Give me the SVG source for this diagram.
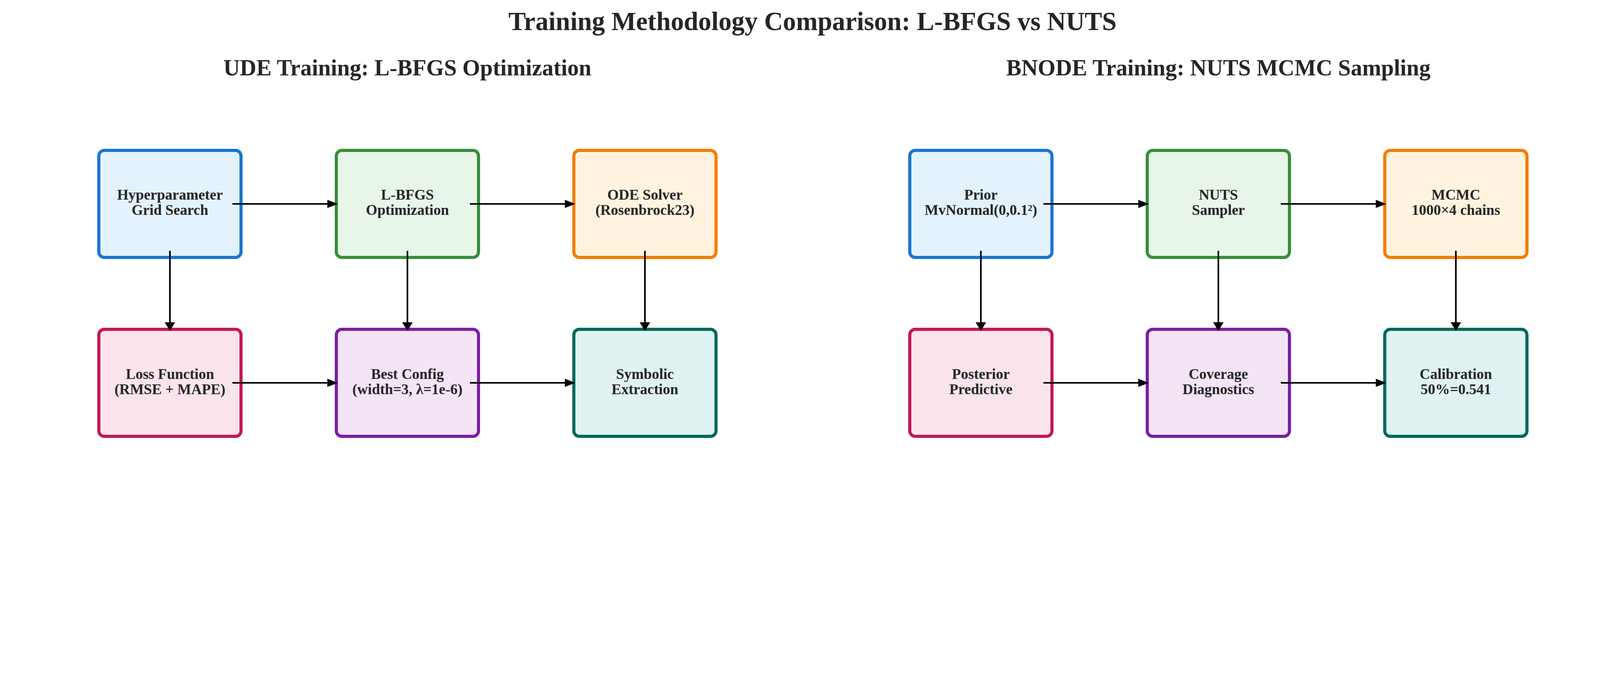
<svg xmlns="http://www.w3.org/2000/svg" width="4160" height="1774" viewBox="0 0 4160 1774">
<style>
  text { font-family: "Liberation Serif", "Times New Roman", serif; font-weight: bold; fill: #262626; text-anchor: middle; }
  .title { font-size: 66.7px; }
  .sub { font-size: 58.3px; }
  .lbl { font-size: 37.5px; }
  .box { stroke-width: 8; }
  .b1 { fill: #E3F2FD; stroke: #1976D2; }
  .b2 { fill: #E8F5E9; stroke: #388E3C; }
  .b3 { fill: #FFF3E0; stroke: #F57C00; }
  .b4 { fill: #FCE4EC; stroke: #C2185B; }
  .b5 { fill: #F3E5F5; stroke: #7B1FA2; }
  .b6 { fill: #E0F2F1; stroke: #00695C; }
  .conn line { stroke: #000000; stroke-width: 4.2; }
  .conn polygon { fill: #000000; }
</style>
<rect x="0" y="0" width="4160" height="1774" fill="#ffffff"/>
<text class="title" x="2080" y="77">Training Methodology Comparison: L-BFGS vs NUTS</text>
<text class="sub" x="1043" y="193">UDE Training: L-BFGS Optimization</text>
<text class="sub" x="3119" y="193">BNODE Training: NUTS MCMC Sampling</text>

<g id="ude-hyper"><rect class="box b1" x="253" y="385" width="364" height="274" rx="14"/><text class="lbl" x="435"><tspan x="435" y="511">Hyperparameter</tspan><tspan x="435" y="550">Grid Search</tspan></text></g>
<g id="ude-lbfgs"><rect class="box b2" x="861" y="385" width="364" height="274" rx="14"/><text class="lbl" x="1043"><tspan x="1043" y="511">L-BFGS</tspan><tspan x="1043" y="550">Optimization</tspan></text></g>
<g id="ude-ode"><rect class="box b3" x="1469" y="385" width="364" height="274" rx="14"/><text class="lbl" x="1651"><tspan x="1651" y="511">ODE Solver</tspan><tspan x="1651" y="550">(Rosenbrock23)</tspan></text></g>
<g id="ude-loss"><rect class="box b4" x="253" y="843" width="364" height="274" rx="14"/><text class="lbl" x="435"><tspan x="435" y="970">Loss Function</tspan><tspan x="435" y="1009">(RMSE + MAPE)</tspan></text></g>
<g id="ude-best"><rect class="box b5" x="861" y="843" width="364" height="274" rx="14"/><text class="lbl" x="1043"><tspan x="1043" y="970">Best Config</tspan><tspan x="1043" y="1009">(width=3, λ=1e-6)</tspan></text></g>
<g id="ude-symbolic"><rect class="box b6" x="1469" y="843" width="364" height="274" rx="14"/><text class="lbl" x="1651"><tspan x="1651" y="970">Symbolic</tspan><tspan x="1651" y="1009">Extraction</tspan></text></g>

<g id="bnode-prior"><rect class="box b1" x="2329" y="385" width="364" height="274" rx="14"/><text class="lbl" x="2511"><tspan x="2511" y="511">Prior</tspan><tspan x="2511" y="550">MvNormal(0,0.1²)</tspan></text></g>
<g id="bnode-nuts"><rect class="box b2" x="2937" y="385" width="364" height="274" rx="14"/><text class="lbl" x="3119"><tspan x="3119" y="511">NUTS</tspan><tspan x="3119" y="550">Sampler</tspan></text></g>
<g id="bnode-mcmc"><rect class="box b3" x="3545" y="385" width="364" height="274" rx="14"/><text class="lbl" x="3727"><tspan x="3727" y="511">MCMC</tspan><tspan x="3727" y="550">1000×4 chains</tspan></text></g>
<g id="bnode-posterior"><rect class="box b4" x="2329" y="843" width="364" height="274" rx="14"/><text class="lbl" x="2511"><tspan x="2511" y="970">Posterior</tspan><tspan x="2511" y="1009">Predictive</tspan></text></g>
<g id="bnode-coverage"><rect class="box b5" x="2937" y="843" width="364" height="274" rx="14"/><text class="lbl" x="3119"><tspan x="3119" y="970">Coverage</tspan><tspan x="3119" y="1009">Diagnostics</tspan></text></g>
<g id="bnode-calibration"><rect class="box b6" x="3545" y="843" width="364" height="274" rx="14"/><text class="lbl" x="3727"><tspan x="3727" y="970">Calibration</tspan><tspan x="3727" y="1009">50%=0.541</tspan></text></g>

<g id="connectors" class="conn">
  <line x1="595" y1="522" x2="839" y2="522"/><polygon points="838,511.5 865,522 838,532.5"/>
  <line x1="1203" y1="522" x2="1447" y2="522"/><polygon points="1446,511.5 1473,522 1446,532.5"/>
  <line x1="595" y1="980" x2="839" y2="980"/><polygon points="838,969.5 865,980 838,990.5"/>
  <line x1="1203" y1="980" x2="1447" y2="980"/><polygon points="1446,969.5 1473,980 1446,990.5"/>
  <line x1="2671" y1="522" x2="2915" y2="522"/><polygon points="2914,511.5 2941,522 2914,532.5"/>
  <line x1="3279" y1="522" x2="3523" y2="522"/><polygon points="3522,511.5 3549,522 3522,532.5"/>
  <line x1="2671" y1="980" x2="2915" y2="980"/><polygon points="2914,969.5 2941,980 2914,990.5"/>
  <line x1="3279" y1="980" x2="3523" y2="980"/><polygon points="3522,969.5 3549,980 3522,990.5"/>
  <line x1="435" y1="642" x2="435" y2="826"/><polygon points="421.5,825 435,847 448.5,825"/>
  <line x1="1043" y1="642" x2="1043" y2="826"/><polygon points="1029.5,825 1043,847 1056.5,825"/>
  <line x1="1651" y1="642" x2="1651" y2="826"/><polygon points="1637.5,825 1651,847 1664.5,825"/>
  <line x1="2511" y1="642" x2="2511" y2="826"/><polygon points="2497.5,825 2511,847 2524.5,825"/>
  <line x1="3119" y1="642" x2="3119" y2="826"/><polygon points="3105.5,825 3119,847 3132.5,825"/>
  <line x1="3727" y1="642" x2="3727" y2="826"/><polygon points="3713.5,825 3727,847 3740.5,825"/>
</g>
</svg>
